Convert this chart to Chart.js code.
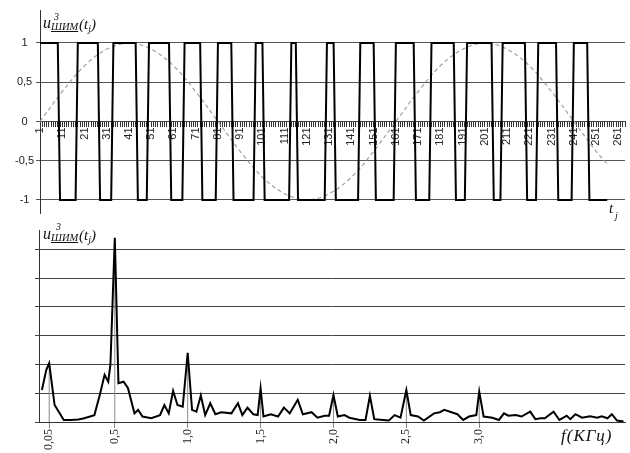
<!DOCTYPE html>
<html>
<head>
<meta charset="utf-8">
<script src="https://cdn.jsdelivr.net/npm/chart.js@4"></script>
<style>
  body { margin: 0; background: #fff; }
  #page { position: relative; width: 630px; height: 453px; overflow: hidden; }
  .box { position: absolute; left: 0; }
  .ttl { position: absolute; font-family: 'Liberation Serif', serif; font-style: italic; color: #111; line-height: 1; white-space: nowrap; }
</style>
</head>
<body>
<div id="page">
  <div class="box" style="top:0"><canvas id="pwmChart" width="630" height="225"></canvas></div>
  <div class="box" style="top:225px"><canvas id="specChart" width="630" height="228"></canvas></div>

  <!-- axis captions -->
  <span class="ttl" style="left:43px;top:15px;font-size:16px">u</span>
  <span class="ttl" style="left:54px;top:12px;font-size:10px">3</span>
  <span class="ttl" style="left:51px;top:22px;font-size:10.5px;text-decoration:underline">ШИМ</span>
  <span class="ttl" style="left:79px;top:17px;font-size:15px">(t<span style="font-size:10px;position:relative;top:3px">j</span>)</span>

  <span class="ttl" style="left:43px;top:226px;font-size:16px">u</span>
  <span class="ttl" style="left:56px;top:222px;font-size:10px">3</span>
  <span class="ttl" style="left:51px;top:233px;font-size:10.5px;text-decoration:underline">ШИМ</span>
  <span class="ttl" style="left:79px;top:228px;font-size:15px">(t<span style="font-size:10px;position:relative;top:3px">j</span>)</span>

  <span class="ttl" style="left:609px;top:201px;font-size:15px">t</span>
  <span class="ttl" style="left:615px;top:211px;font-size:10px">j</span>
  <span class="ttl" style="left:561px;top:427px;font-size:17px;letter-spacing:1px">f(КГц)</span>
</div>

<script>
// --- top chart: PWM signal and reference sine ---
const tTicks = Array.from({ length: 264 }, (_, i) => i + 1);   // one tick per sample
const tLabels = [1, 11, 21, 31, 41, 51, 61, 71, 81, 91, 101, 111, 121, 131, 141, 151, 161, 171, 181, 191, 201, 211, 221, 231, 241, 251, 261];
const yTicks = [-1, -0.5, 0, 0.5, 1];

// sample where the PWM level flips (first sample at the new level)
const pwmSwitch = [10, 18, 28, 34, 45, 50, 60, 66, 74, 81, 88, 98, 102, 114, 117, 130, 134, 145, 152, 161, 170, 177, 188, 193, 205, 209, 220, 225, 234, 241, 248];
const pwmFirstLevel = 1;
const pwmEnd = 256;

const sineT = [1, 11, 21, 31, 41, 51, 61, 71, 81, 91, 101, 111, 121, 131, 141, 151, 161, 171, 181, 191, 201, 211, 221, 231, 241, 251, 256];
const sineV = [0, 0.38, 0.71, 0.92, 1, 0.92, 0.71, 0.38, 0, -0.38, -0.71, -0.92, -1, -0.92, -0.71, -0.38, 0, 0.38, 0.71, 0.92, 1, 0.92, 0.71, 0.38, 0, -0.38, -0.54];

// --- bottom chart: spectrum ---
const fTicks = [0.05, 0.5, 1, 1.5, 2, 2.5, 3];
const fLabels = ['0,05', '0,5', '1,0', '1,5', '2,0', '2,5', '3,0'];
const ampGrid = [0, 1, 2, 3, 4, 5, 6];

const fFreq = [0, 0.03, 0.05, 0.087, 0.15, 0.2, 0.25, 0.29, 0.36, 0.4, 0.43, 0.455, 0.47, 0.5, 0.525, 0.56, 0.59, 0.635, 0.66, 0.69, 0.75, 0.81, 0.84, 0.87, 0.9, 0.93, 0.966,
  1, 1.03, 1.06, 1.09, 1.12, 1.155, 1.19, 1.23, 1.3, 1.345, 1.375, 1.41, 1.45, 1.48, 1.5, 1.52, 1.57, 1.62, 1.66, 1.7, 1.755, 1.79, 1.85, 1.89, 1.94, 1.97,
  2, 2.03, 2.075, 2.11, 2.18, 2.22, 2.25, 2.28, 2.34, 2.38, 2.42, 2.46, 2.5, 2.53, 2.58, 2.62, 2.69, 2.73, 2.76, 2.81, 2.85, 2.89, 2.93, 2.98,
  3, 3.03, 3.09, 3.135, 3.17, 3.2, 3.25, 3.29, 3.35, 3.385, 3.42, 3.45, 3.51, 3.55, 3.6, 3.625, 3.66, 3.705, 3.76, 3.81, 3.84, 3.88, 3.91, 3.945, 3.99];
const fAmp = [1.11, 1.81, 2.04, 0.59, 0.07, 0.07, 0.09, 0.13, 0.24, 1.0, 1.64, 1.4, 2.0, 6.4, 1.35, 1.4, 1.18, 0.3, 0.42, 0.19, 0.13, 0.24, 0.59, 0.3, 1.08, 0.59, 0.53,
  2.4, 0.42, 0.36, 0.92, 0.24, 0.65, 0.27, 0.34, 0.3, 0.65, 0.24, 0.5, 0.27, 0.24, 1.17, 0.19, 0.27, 0.19, 0.5, 0.3, 0.77, 0.27, 0.34, 0.15, 0.22, 0.22,
  0.94, 0.19, 0.24, 0.15, 0.07, 0.07, 0.91, 0.1, 0.07, 0.05, 0.24, 0.15, 1.11, 0.24, 0.19, 0.05, 0.3, 0.34, 0.42, 0.34, 0.27, 0.07, 0.19, 0.24,
  1.06, 0.19, 0.15, 0.07, 0.3, 0.22, 0.24, 0.19, 0.36, 0.1, 0.13, 0.13, 0.36, 0.07, 0.22, 0.1, 0.27, 0.15, 0.2, 0.15, 0.2, 0.13, 0.27, 0.05, 0.02];
const dropAmp = [2.04, 6.4, 2.4, 1.17, 0.94, 1.11, 1.06];   // heights of the drop lines at labelled frequencies

// build PWM polyline from the switch samples
const pwmPoints = [{ x: 1, y: pwmFirstLevel }];
let level = pwmFirstLevel;
pwmSwitch.forEach(s => {
  pwmPoints.push({ x: s - 1, y: level });
  level = -level;
  pwmPoints.push({ x: s, y: level });
});
pwmPoints.push({ x: pwmEnd, y: level });

const sinePoints = sineT.map((t, i) => ({ x: t, y: sineV[i] }));
const specPoints = fFreq.map((f, i) => ({ x: f, y: fAmp[i] }));
const dropPoints = [];
fTicks.forEach((f, i) => {
  dropPoints.push({ x: f, y: 0 }, { x: f, y: dropAmp[i] }, { x: f, y: null });
});

const comma = v => String(v).replace('.', ',');

new Chart(document.getElementById('pwmChart'), {
  type: 'line',
  data: {
    datasets: [{
      data: pwmPoints,
      borderColor: '#000',
      borderWidth: 2,
      pointRadius: 0,
      tension: 0
    }, {
      data: sinePoints,
      borderColor: '#a0a0a0',
      borderWidth: 1.2,
      borderDash: [4, 3],
      pointRadius: 0,
      tension: 0.35
    }]
  },
  options: {
    responsive: false,
    animation: false,
    layout: { padding: { top: 10, bottom: 12, left: 0, right: 5 } },
    plugins: { legend: { display: false }, tooltip: { enabled: false } },
    scales: {
      x: {
        type: 'linear',
        min: 1,
        max: 264,
        position: { y: 0 },
        afterBuildTicks: s => { s.ticks = tTicks.map(v => ({ value: v })); },
        afterFit: s => { s.paddingLeft = 0; s.paddingRight = 0; },
        ticks: {
          autoSkip: false,
          minRotation: 90,
          maxRotation: 90,
          padding: 1,
          color: '#222',
          font: { family: 'Liberation Sans', size: 11 },
          callback: v => tLabels.includes(v) ? String(v) : ''
        },
        grid: { drawOnChartArea: false, tickLength: 5, color: '#333' },
        border: { color: '#444' }
      },
      y: {
        min: -1.166,
        max: 1.42,
        afterBuildTicks: s => { s.ticks = yTicks.map(v => ({ value: v })); },
        afterFit: s => { s.width = 40; },
        ticks: {
          crossAlign: 'center',
          padding: 2,
          color: '#222',
          font: { family: 'Liberation Sans', size: 11 },
          callback: v => comma(v)
        },
        grid: { color: '#555', tickLength: 4 },
        border: { color: '#333' }
      }
    }
  }
});

new Chart(document.getElementById('specChart'), {
  type: 'line',
  data: {
    datasets: [{
      data: specPoints,
      borderColor: '#000',
      borderWidth: 2,
      pointRadius: 0,
      tension: 0,
      order: 1
    }, {
      data: dropPoints,
      borderColor: '#8a8a8a',
      borderWidth: 1,
      pointRadius: 0,
      spanGaps: false,
      order: 2
    }]
  },
  options: {
    responsive: false,
    animation: false,
    layout: { padding: { top: 5, bottom: 0, left: 0, right: 5 } },
    plugins: { legend: { display: false }, tooltip: { enabled: false } },
    scales: {
      x: {
        type: 'linear',
        min: -0.02,
        max: 4.0,
        afterBuildTicks: s => { s.ticks = fTicks.map(v => ({ value: v })); },
        afterFit: s => { s.height = 31; s.paddingLeft = 0; s.paddingRight = 0; },
        ticks: {
          autoSkip: false,
          minRotation: 90,
          maxRotation: 90,
          padding: 1,
          color: '#222',
          font: { family: 'Liberation Serif', size: 12 },
          callback: (v, i) => fLabels[i]
        },
        grid: { drawOnChartArea: false, tickLength: 6, color: '#888' },
        border: { color: '#333' }
      },
      y: {
        min: 0,
        max: 6.67,
        afterBuildTicks: s => { s.ticks = ampGrid.map(v => ({ value: v })); },
        afterFit: s => { s.width = 39; },
        ticks: { display: false },
        grid: { color: '#444', tickLength: 4 },
        border: { color: '#333' }
      }
    }
  }
});
</script>
</body>
</html>
